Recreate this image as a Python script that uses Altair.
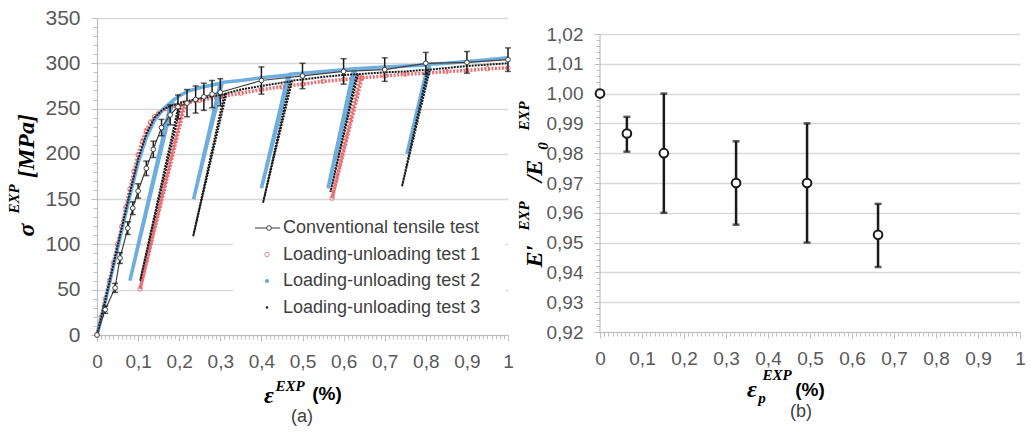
import altair as alt
import pandas as pd

# ---------------- panel (a): stress-strain curves ----------------
series_names = ["Conventional tensile test", "Loading-unloading test 1",
                "Loading-unloading test 2", "Loading-unloading test 3"]

conv_strain = [0, 0.02, 0.044, 0.056, 0.075, 0.087, 0.10, 0.12, 0.137, 0.157, 0.178, 0.197,
               0.219, 0.24, 0.26, 0.28, 0.30, 0.40, 0.50, 0.60, 0.70, 0.80, 0.90, 1.00]
conv_stress = [0, 28, 52, 85, 118, 140, 159, 184, 205, 229, 243, 252,
               256, 260, 263, 266, 268, 281, 286, 291, 293, 300, 301, 304]
conv_err = [0, 4, 5, 6, 7, 7, 8, 8, 9, 9, 11, 13,
            15, 15, 15, 15, 15, 15, 14, 14, 13, 12, 12, 13]

t1_strain = [0, 0.01, 0.02, 0.03, 0.04, 0.05, 0.06, 0.07, 0.08, 0.09, 0.10, 0.11, 0.12, 0.13,
             0.14, 0.15, 0.17, 0.19, 0.21, 0.105, 0.215, 0.25, 0.30, 0.35, 0.40, 0.45, 0.50,
             0.55, 0.60, 0.64, 0.572, 0.645, 0.70, 0.75, 0.80, 0.85, 0.90, 0.95, 1.00]
t1_stress = [0, 20, 40, 60, 80, 100, 120, 141, 161, 181, 199, 214, 226, 235,
             241, 245, 250, 253, 255, 51, 256, 259, 263, 267, 271, 274, 277,
             280, 282, 284, 151, 284, 286, 288, 289, 291, 292, 294, 295]

t2_strain = [0, 0.02, 0.04, 0.06, 0.08, 0.10, 0.12, 0.14, 0.16, 0.18, 0.08, 0.185, 0.20, 0.22,
             0.25, 0.28, 0.30, 0.235, 0.305, 0.35, 0.40, 0.465, 0.40, 0.47, 0.50, 0.55, 0.60,
             0.625, 0.562, 0.63, 0.70, 0.75, 0.805, 0.754, 0.81, 0.85, 0.90, 0.95, 1.00]
t2_stress = [0, 37, 76, 115, 154, 190, 218, 237, 249, 257, 60, 259, 264, 269,
             273, 276, 278, 150, 279, 281, 284, 287, 162, 288, 289, 291, 293,
             294, 162, 294, 296, 297, 298, 200, 299, 300, 302, 304, 306]

t3_strain = [0, 0.02, 0.04, 0.06, 0.08, 0.10, 0.12, 0.14, 0.16, 0.18, 0.20, 0.105, 0.205, 0.25,
             0.31, 0.234, 0.315, 0.35, 0.40, 0.47, 0.404, 0.475, 0.50, 0.55, 0.60, 0.632, 0.568,
             0.635, 0.70, 0.75, 0.805, 0.742, 0.81, 0.90, 1.00]
t3_stress = [0, 38, 78, 118, 157, 194, 222, 240, 249, 253, 256, 60, 257, 261,
             266, 109, 267, 271, 275, 280, 146, 281, 282, 285, 287, 288, 158,
             288, 290, 291, 293, 164, 293, 297, 300]

# ---------------- panel (b): modulus ratio ----------------
ep_strain = [0, 0.064, 0.152, 0.324, 0.493, 0.662]
e_ratio = [1.000, 0.9866, 0.980, 0.970, 0.970, 0.9526]
e_low = [1.000, 0.9805, 0.960, 0.956, 0.950, 0.9418]
e_high = [1.000, 0.9922, 1.000, 0.984, 0.990, 0.963]

x_ticks = [0, 0.1, 0.2, 0.3, 0.4, 0.5, 0.6, 0.7, 0.8, 0.9, 1.0]
y_ticks_a = [0, 50, 100, 150, 200, 250, 300, 350]
y_ticks_b = [0.92, 0.93, 0.94, 0.95, 0.96, 0.97, 0.98, 0.99, 1.00, 1.01, 1.02]

# ---------------- styling ----------------
WA, HA = 411, 317
WB, HB = 420, 314
B_TOP = 0.92 + 0.10 * HB / 298.0
GRID = "#d9d9d9"
AXC = "#bfbfbf"
LBL = "#595959"
SANS = "Liberation Sans"
SERIF = "Liberation Serif"
RED = "#e8555a"
BLUE = "#5da5da"

x_minor = [i / 100 for i in range(101)]
ya_minor = [i * 10 for i in range(36)]
yb_minor = [round(0.92 + i * 0.002, 3) for i in range(51)]

def main_axis(orient, values, expr=None, grid=False, size=19):
    kw = dict(orient=orient, values=values, title=None, grid=grid, gridColor=GRID, gridWidth=1.5,
              domainColor=AXC, domainWidth=1.2, tickColor=AXC, tickSize=6, tickWidth=1,
              labelFont=SANS, labelFontSize=size, labelColor=LBL, labelPadding=11, labelFlush=False)
    if expr:
        kw["labelExpr"] = expr
    return alt.Axis(**kw)

def minor_axis(orient, values):
    return alt.Axis(orient=orient, values=values, title=None, grid=False, labels=False,
                    domain=False, tickColor=AXC, tickSize=4, tickWidth=1)

XEXPR = "replace(format(datum.value, '.1~f'), '.', ',')"
YBEXPR = "replace(format(datum.value, '.2f'), '.', ',')"

def xa(field, axis=None):
    return alt.X(field, type="quantitative", scale=alt.Scale(domain=[0, 1], nice=False), axis=axis)

def ya(field, axis=None):
    return alt.Y(field, type="quantitative", scale=alt.Scale(domain=[0, 350], nice=False), axis=axis)

def xb(field, axis=None):
    return alt.X(field, type="quantitative", scale=alt.Scale(domain=[0, 1], nice=False), axis=axis)

def yb(field, axis=None):
    return alt.Y(field, type="quantitative", scale=alt.Scale(domain=[0.92, B_TOP], nice=False, zero=False), axis=axis)

def txt(s, x, y, size, font=SANS, style="normal", weight="normal", angle=0, color="black", align="center"):
    return alt.Chart(pd.DataFrame({"t": [s]})).mark_text(
        text=s, font=font, fontSize=size, fontStyle=style, fontWeight=weight, angle=angle,
        color=color, align=align, baseline="middle").encode(x=alt.value(x), y=alt.value(y))

def series_df(sx, sy):
    return pd.DataFrame({"strain": sx, "stress": sy, "i": list(range(len(sx)))})

conv_df = pd.DataFrame({"strain": conv_strain, "stress": conv_stress, "err": conv_err,
                        "i": list(range(len(conv_strain)))})
conv_df["lo"] = conv_df["stress"] - conv_df["err"]
conv_df["hi"] = conv_df["stress"] + conv_df["err"]
t1_df = series_df(t1_strain, t1_stress)
t2_df = series_df(t2_strain, t2_stress)
t3_df = series_df(t3_strain, t3_stress)

# ---- panel (a) layers ----
red_line = alt.Chart(t1_df).mark_line(color=RED, strokeWidth=3.5, strokeDash=[2, 1.5], opacity=0.85).encode(
    x=xa("strain", main_axis("bottom", x_ticks, XEXPR)),
    y=ya("stress", main_axis("left", y_ticks_a, grid=True, size=21)),
    order="i:Q")
red_pts = alt.Chart(t1_df).mark_point(shape="circle", filled=False, color=RED, size=20, strokeWidth=1).encode(
    x=xa("strain"), y=ya("stress"))
blue_line = alt.Chart(t2_df).mark_line(color=BLUE, strokeWidth=3.5, opacity=0.9).encode(
    x=xa("strain"), y=ya("stress"), order="i:Q")
black_line = alt.Chart(t3_df).mark_line(color="#1a1a1a", strokeWidth=2, strokeDash=[2, 1]).encode(
    x=xa("strain", minor_axis("bottom", x_minor)),
    y=ya("stress", minor_axis("left", ya_minor)),
    order="i:Q")
conv_line = alt.Chart(conv_df).mark_line(color="#404040", strokeWidth=1.2).encode(
    x=xa("strain"), y=ya("stress"), order="i:Q")
conv_bar = alt.Chart(conv_df).transform_filter("datum.err > 0").mark_rule(color="#1a1a1a", strokeWidth=1.5).encode(
    x=xa("strain"), y=ya("lo"), y2="hi")
conv_cap_hi = alt.Chart(conv_df).transform_filter("datum.err > 0").mark_tick(
    orient="horizontal", color="#1a1a1a", size=6, thickness=1.5).encode(x=xa("strain"), y=ya("hi"))
conv_cap_lo = alt.Chart(conv_df).transform_filter("datum.err > 0").mark_tick(
    orient="horizontal", color="#1a1a1a", size=6, thickness=1.5).encode(x=xa("strain"), y=ya("lo"))
conv_pts = alt.Chart(conv_df).mark_point(shape="circle", filled=True, fill="white", stroke="#404040",
                                         size=22, strokeWidth=1, opacity=1).encode(x=xa("strain"), y=ya("stress"))

# legend (drawn manually)
leg_bg = alt.Chart(pd.DataFrame({"a": [0]})).mark_rect(color="white").encode(
    x=alt.value(136), x2=alt.value(408), y=alt.value(196), y2=alt.value(303))
leg_rows = [210, 236.5, 263, 289.5]
leg_layers = [leg_bg]
leg_layers.append(alt.Chart(pd.DataFrame({"a": [0]})).mark_rule(color="#595959", strokeWidth=1.2).encode(
    x=alt.value(158), x2=alt.value(183), y=alt.value(leg_rows[0])))
leg_layers.append(alt.Chart(pd.DataFrame({"a": [0]})).mark_point(
    shape="circle", filled=True, fill="white", stroke="#404040", size=22, strokeWidth=1, opacity=1).encode(
    x=alt.value(172), y=alt.value(leg_rows[0])))
leg_layers.append(alt.Chart(pd.DataFrame({"a": [0]})).mark_point(
    shape="circle", filled=False, color=RED, size=20, strokeWidth=1).encode(x=alt.value(170), y=alt.value(leg_rows[1])))
leg_layers.append(alt.Chart(pd.DataFrame({"a": [0]})).mark_point(
    shape="circle", filled=True, color=BLUE, size=16, opacity=1).encode(x=alt.value(170), y=alt.value(leg_rows[2])))
leg_layers.append(alt.Chart(pd.DataFrame({"a": [0]})).mark_point(
    shape="circle", filled=True, color="#1a1a1a", size=6, opacity=1).encode(x=alt.value(170), y=alt.value(leg_rows[3])))
for name, ry in zip(series_names, leg_rows):
    leg_layers.append(txt(name, 186, ry, 18, color="#404040", align="left"))

titles_a = [
    txt("σ", -70, 212, 24, SERIF, "italic", "bold", 270),
    txt("EXP", -83, 181, 15, SERIF, "italic", "bold", 270),
    txt("[MPa]", -70, 128, 24, SERIF, "italic", "bold", 270),
    txt("ε", 172, 378, 24, SERIF, "italic", "bold"),
    txt("EXP", 193, 368, 15, SERIF, "italic", "bold"),
    txt("(%)", 230, 376, 19, SANS, "normal", "bold"),
    txt("(a)", 205, 399, 18, SANS, "normal", "normal", color="#404040"),
]

left = alt.layer(red_line, red_pts, blue_line, black_line, conv_line, conv_bar, conv_cap_hi, conv_cap_lo,
                 conv_pts, *leg_layers, *titles_a).resolve_axis(x="independent", y="independent").properties(
    width=WA, height=HA)

# ---- panel (b) layers ----
b_df = pd.DataFrame({"ep": ep_strain, "r": e_ratio, "lo": e_low, "hi": e_high})
axis_df = pd.DataFrame({"x": [0], "y0": [0.92], "y1": [1.02]})

b_axisline = alt.Chart(axis_df).mark_rule(color=AXC, strokeWidth=1.2).encode(
    x=xb("x", main_axis("bottom", x_ticks, XEXPR)),
    y=yb("y0", alt.Axis(orient="left", values=y_ticks_b, title=None, grid=True, gridColor=GRID, gridWidth=1.5,
                        domain=False, tickColor=AXC, tickSize=6, labelFont=SANS, labelFontSize=19,
                        labelColor=LBL, labelPadding=11, labelExpr=YBEXPR, labelFlush=False)),
    y2="y1")
b_bar = alt.Chart(b_df).transform_filter("datum.hi > datum.lo").mark_rule(color="#1a1a1a", strokeWidth=2.5).encode(
    x=xb("ep", minor_axis("bottom", x_minor)), y=yb("lo", minor_axis("left", yb_minor)), y2="hi")
b_cap_hi = alt.Chart(b_df).transform_filter("datum.hi > datum.lo").mark_tick(
    orient="horizontal", color="#1a1a1a", size=7, thickness=2.5).encode(x=xb("ep"), y=yb("hi"))
b_cap_lo = alt.Chart(b_df).transform_filter("datum.hi > datum.lo").mark_tick(
    orient="horizontal", color="#1a1a1a", size=7, thickness=2.5).encode(x=xb("ep"), y=yb("lo"))
b_pts = alt.Chart(b_df).mark_point(shape="circle", filled=True, fill="white", stroke="#1a1a1a",
                                   size=75, strokeWidth=2, opacity=1).encode(x=xb("ep"), y=yb("r"))

titles_b = [
    txt("E′", -65, 238, 24, SERIF, "italic", "bold", 270),
    txt("EXP", -76, 198, 15, SERIF, "italic", "bold", 270),
    txt("/E", -65, 153, 24, SERIF, "italic", "bold", 270),
    txt("0", -57, 128, 15, SERIF, "italic", "bold", 270),
    txt("EXP", -76, 98, 15, SERIF, "italic", "bold", 270),
    txt("ε", 152, 372, 24, SERIF, "italic", "bold"),
    txt("p", 162, 380, 15, SERIF, "italic", "bold"),
    txt("EXP", 177, 357, 15, SERIF, "italic", "bold"),
    txt("(%)", 210, 372, 19, SANS, "normal", "bold"),
    txt("(b)", 201, 394, 18, SANS, "normal", "normal", color="#404040"),
]

right = alt.layer(b_axisline, b_bar, b_cap_hi, b_cap_lo, b_pts, *titles_b).resolve_axis(
    x="independent", y="independent").properties(width=WB, height=HB)

chart = alt.hconcat(left, right, spacing=92, bounds="flush").properties(
    padding={"left": 7, "top": 7, "right": 5, "bottom": 5}).configure_view(stroke=None)

chart.save("out.html", embed_options={"renderer": "svg", "actions": False})
